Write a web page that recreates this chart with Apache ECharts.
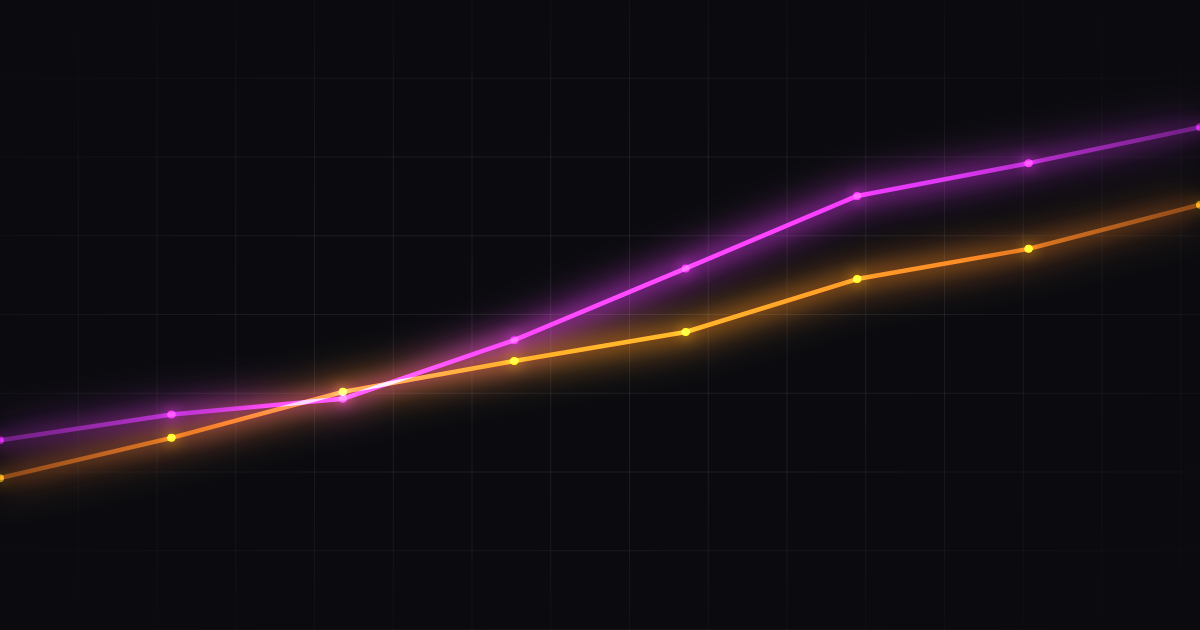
<!DOCTYPE html>
<html>
<head>
<meta charset="utf-8">
<script src="https://cdn.jsdelivr.net/npm/echarts@6/dist/echarts.min.js"></script>
<style>
  html, body { margin: 0; padding: 0; width: 1200px; height: 630px; background: #0b0b0f; overflow: hidden; }
  #bg {
    position: absolute; left: 0; top: 0; width: 1200px; height: 630px;
    background-image:
      linear-gradient(to right, rgba(255,255,255,0.08) 1.2px, transparent 1.2px),
      linear-gradient(to bottom, rgba(255,255,255,0.08) 1.2px, transparent 1.2px);
    background-size: 78.75px 78.75px;
    background-position: -1px -1px;
    -webkit-mask-image: radial-gradient(ellipse at center, rgba(0,0,0,1) 0%, rgba(0,0,0,0.9) 40%, rgba(0,0,0,0) 100%);
    mask-image: radial-gradient(ellipse at center, rgba(0,0,0,1) 0%, rgba(0,0,0,0.9) 40%, rgba(0,0,0,0) 100%);
  }
  #glow { position: absolute; left: 0; top: 0; width: 1200px; height: 630px; filter: blur(18px); opacity: 0.75; mix-blend-mode: screen; }
  #chart { position: absolute; left: 0; top: 0; width: 1200px; height: 630px; }
</style>
</head>
<body>
<div id="bg"></div>
<div id="glow"></div>
<div id="chart"></div>
<script>
const categories = ['P1', 'P2', 'P3', 'P4', 'P5', 'P6', 'P7', 'P8'];
const magentaValues = [30.1, 34.2, 36.7, 46.0, 57.4, 68.9, 74.1, 79.8];
const orangeValues = [24.1, 30.5, 37.8, 42.7, 47.3, 55.7, 60.5, 67.5];

function grad(stops) {
  return new echarts.graphic.LinearGradient(0, 0, 1, 0, stops.map(c => ({ offset: c[0], color: c[1] })));
}
function withEndFade(values) {
  return values.map((v, i) => (i === 0 || i === values.length - 1)
    ? { value: v, itemStyle: { opacity: 0.5 } }
    : v);
}
const magentaGrad = () => grad([
  [0, 'rgba(150,40,180,0.5)'],
  [0.15, 'rgba(200,55,225,0.75)'],
  [0.3, 'rgba(235,65,250,0.95)'],
  [0.55, 'rgba(240,65,250,1)'],
  [0.8, 'rgba(215,55,235,0.85)'],
  [1, 'rgba(150,40,180,0.5)']
]);
const orangeGrad = () => grad([
  [0, 'rgba(180,90,30,0.55)'],
  [0.15, 'rgba(235,125,40,0.8)'],
  [0.3, 'rgba(255,150,40,0.95)'],
  [0.55, 'rgba(255,160,40,1)'],
  [0.8, 'rgba(250,135,40,0.88)'],
  [1, 'rgba(180,90,30,0.55)']
]);

const base = {
  backgroundColor: 'transparent',
  animation: false,
  grid: { left: 0, right: 0, top: 0, bottom: 0 },
  xAxis: { type: 'category', data: categories, boundaryGap: false, show: false },
  yAxis: { type: 'value', min: 0, max: 100, show: false }
};

// blurred halo layer (same values, wide strokes)
const glow = echarts.init(document.getElementById('glow'), null, { renderer: 'canvas' });
glow.setOption(Object.assign({}, base, {
  series: [
    { type: 'line', data: magentaValues, symbol: 'none', silent: true,
      lineStyle: { width: 18, color: magentaGrad() } },
    { type: 'line', data: orangeValues, symbol: 'none', silent: true,
      lineStyle: { width: 18, color: orangeGrad() } }
  ]
}));

const chart = echarts.init(document.getElementById('chart'), null, { renderer: 'canvas' });
chart.setOption(Object.assign({}, base, {
  series: [
    {
      name: 'Magenta',
      type: 'line',
      data: withEndFade(magentaValues),
      blendMode: 'lighter',
      symbol: 'circle',
      symbolSize: 8,
      z: 3,
      lineStyle: {
        width: 4.5,
        color: magentaGrad(),
        shadowBlur: 18,
        shadowColor: 'rgba(215,45,240,1)'
      },
      itemStyle: {
        color: '#d828e8',
        shadowBlur: 14,
        shadowColor: 'rgba(255,60,255,1)'
      }
    },
    {
      name: 'Orange',
      type: 'line',
      data: withEndFade(orangeValues),
      blendMode: 'lighter',
      symbol: 'circle',
      symbolSize: 8,
      z: 4,
      lineStyle: {
        width: 4.5,
        color: orangeGrad(),
        shadowBlur: 18,
        shadowColor: 'rgba(255,135,20,1)'
      },
      itemStyle: {
        color: '#ffd21e',
        shadowBlur: 14,
        shadowColor: 'rgba(255,200,30,1)'
      }
    }
  ]
}));
</script>
</body>
</html>
